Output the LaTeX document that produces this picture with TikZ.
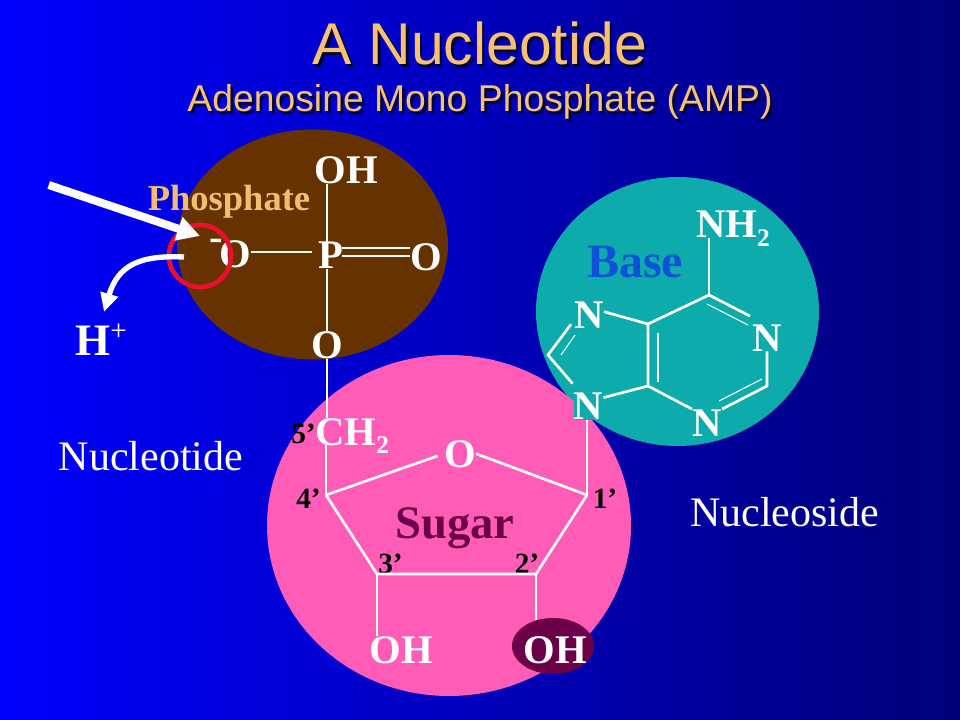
\documentclass[tikz,border=0pt]{standalone}
\usepackage{fontspec}
\setmainfont{Liberation Serif}
\newfontfamily\arialfont{Liberation Sans}
\usetikzlibrary{arrows.meta,shapes.geometric}
\definecolor{bgleft}{HTML}{0000FF}
\definecolor{bgmid}{HTML}{0000D8}
\definecolor{bgright}{HTML}{000078}
\definecolor{titlegold}{HTML}{F6C272}
\definecolor{brownball}{HTML}{663300}
\definecolor{tealball}{HTML}{0DABAB}
\definecolor{pinkball}{HTML}{FF5CB8}
\definecolor{plum}{HTML}{6B0048}
\definecolor{basetext}{HTML}{0F52D8}
\definecolor{redring}{HTML}{E8102A}
\newcommand{\lowtwo}{\raisebox{-6.5pt}{\fontsize{19}{20}\selectfont 2}}
\tikzset{
  atom/.style={font=\fontsize{30.5}{31}\selectfont\bfseries, text=white, inner sep=0pt, anchor=base},
  numlabel/.style={font=\fontsize{22}{23}\selectfont\bfseries, text=black, inner sep=0pt, anchor=base},
  sidelabel/.style={font=\fontsize{31.5}{32}\selectfont, text=white, inner sep=0pt, anchor=base},
  thinbond/.style={white, line width=1.2pt},
  ringbond/.style={white, line width=2pt},
  innerbond/.style={white, line width=0.8pt}
}
\begin{document}
\begin{tikzpicture}[x=0.75pt, y=-0.75pt]
\useasboundingbox (0,0) rectangle (960,720);
% background
\shade[left color=bgleft, middle color=bgmid, right color=bgright] (0,0) rectangle (960,720);

% title
\node[font=\arialfont\fontsize{44.2}{45}\selectfont, text=black!80!blue, inner sep=0pt, anchor=base] (titleback) at (482.5,67.5) {A Nucleotide};
\node[font=\arialfont\fontsize{44.2}{45}\selectfont, text=titlegold, inner sep=0pt, anchor=base] (title) at (480,65) {A Nucleotide};
\node[font=\arialfont\fontsize{28}{29}\selectfont, text=black!80!blue, inner sep=0pt, anchor=base] (subtitleback) at (482.5,114.5) {Adenosine Mono Phosphate (AMP)};
\node[font=\arialfont\fontsize{28}{29}\selectfont, text=titlegold, inner sep=0pt, anchor=base] (subtitle) at (480,112) {Adenosine Mono Phosphate (AMP)};

% three balls
\fill[tealball] (677.5,311.5) ellipse [x radius=141.5, y radius=134.5];
\fill[pinkball] (449,525.5) ellipse [x radius=182, y radius=170.5];
\fill[brownball] (312.5,244.5) ellipse [x radius=135.5, y radius=115];
\node[ellipse, fill=plum, inner sep=0pt, minimum width=61.5pt, minimum height=42pt] (OHoval) at (553,646) {};

% phosphate
\coordinate (singleb) at (312,252);
\coordinate (dblup) at (342,248);
\coordinate (dbllow) at (342,256);
\node[atom] (OHtop) at (346.5,183.5) {OH};
\node[atom] (P) at (331,269) {P};
\node[atom] (Oneg) at (235,268) {O};
\node[atom] (Ominus) at (216,251) {-};
\node[atom] (Oright) at (426,271) {O};
\node[atom] (Obot) at (327,358) {O};
\node[atom, font=\fontsize{33.75}{34}\selectfont\bfseries, anchor=base west] (Hplus) at (75,355) {H\raisebox{11pt}{\fontsize{22}{23}\selectfont\mdseries +}};
\node[font=\fontsize{27.4}{28}\selectfont\bfseries, text=titlegold!92!brown, inner sep=0pt, anchor=base] (phosphate) at (229,210.5) {Phosphate};

\draw[thinbond] (Obot |- OHtop.south) -- (Obot |- P.north);
\draw[thinbond] (Obot |- P.south) -- (Obot.north);
\draw[thinbond] (singleb -| Oneg.east) -- (singleb);
\draw[thinbond] (dblup) -- (dblup -| Oright.west);
\draw[thinbond] (dbllow) -- (dbllow -| Oright.west);

% base
\coordinate (C6) at (709,295);
\coordinate (C5) at (648,324);
\coordinate (C4) at (648,386);
\coordinate (C2) at (767,386);
\coordinate (C8) at (548,355);
\node[atom] (NHtwo) at (733,238) {NH\lowtwo};
\node[atom] (Nseven) at (589,329) {N};
\node[atom] (None) at (767,351) {N};
\node[atom] (Nthree) at (707,436) {N};
\node[atom, fill=tealball] (Nnine) at (588.5,419.5) {N};
\node[font=\fontsize{36}{37}\selectfont\bfseries, text=basetext, inner sep=0pt, anchor=base] (base) at (635,278) {Base};

\draw[thinbond] (C6 |- NHtwo.base) -- (C6);
\draw[ringbond] (C6) -- ([shift={(-2,-8)}]None.north west);
\draw[ringbond] (Nthree.north east) -- (C2) -- (C2 |- None.south);
\draw[ringbond] (Nthree.north west) -- (C4) -- (C5) -- (C6);
\draw[ringbond] (C5) -- (Nseven.15);
\draw[ringbond] (C4) -- (Nnine.30);
\draw[ringbond] ([shift={(-3,-5)}]Nseven.south west) -- (C8) -- ([shift={(-1,-9)}]Nnine.north west);
% second lines of the double bonds
\draw[innerbond] (707,304) -- (748,325);
\draw[innerbond] (719,401) -- (762,379);
\draw[innerbond] (658,333) -- (658,382);
\draw[innerbond] (575,335) -- (561,355);

% sugar
\coordinate (Cfour) at (326,495);
\coordinate (Cone) at (587,495);
\coordinate (Cthree) at (377,574);
\coordinate (Ctwo) at (536,574);
\node[atom, anchor=base west] (CHtwo) at (315,445) {CH\lowtwo};
\node[atom] (Oring) at (460,467) {O};
\node[atom] (OHleft) at (401,663) {OH};
\node[atom] (OHright) at (555,663) {OH};
\node[font=\fontsize{35}{36}\selectfont\bfseries, text=plum, inner sep=0pt, anchor=base] (sugar) at (455,538) {Sugar};
\node[numlabel] (five) at (303.5,443) {5’};
\node[numlabel] (four) at (308.5,508) {4’};
\node[numlabel] (one) at (605,508) {1’};
\node[numlabel] (three) at (390.5,573) {3’};
\node[numlabel] (two) at (527,573) {2’};

\draw[thinbond] (Obot.south) -- (Obot |- CHtwo.north);
\draw[thinbond] (Cfour |- CHtwo.base) -- (Cfour);
\draw[thinbond] (Cone |- Nnine.south) -- (Cone);
\draw[ringbond, shorten >=5pt] (Cfour) -- (Oring.west);
\draw[ringbond] (Cone) -- (Oring.east);
\draw[ringbond] (Cfour) -- (Cthree) -- (Ctwo) -- (Cone);
\draw[thinbond] (Cthree) -- (Cthree |- OHleft.north);
\draw[thinbond] (Ctwo) -- (Ctwo |- OHoval.124);

% side labels
\node[sidelabel] (nucleotide) at (151,470) {Nucleotide};
\node[sidelabel] (nucleoside) at (784.5,526) {Nucleoside};

% ring and arrows
\node[circle, draw=redring, line width=3.5pt, inner sep=0pt, minimum size=46.5pt] (ring) at (200,256) {};
\coordinate (bigtail) at (48.7,185);
\coordinate (bigtip) at (200,236);
\coordinate (curvetail) at (184,257);
\coordinate (curvetip) at (104,312);
\draw[white, line width=6pt, -{Triangle[length=17pt,width=17.5pt]}] (bigtail) -- (bigtip);
\draw[white, line width=4pt, -{Triangle[length=14pt,width=13pt]}] (curvetail) .. controls (140,255) and (118,265) .. (curvetip);
\end{tikzpicture}
\end{document}
